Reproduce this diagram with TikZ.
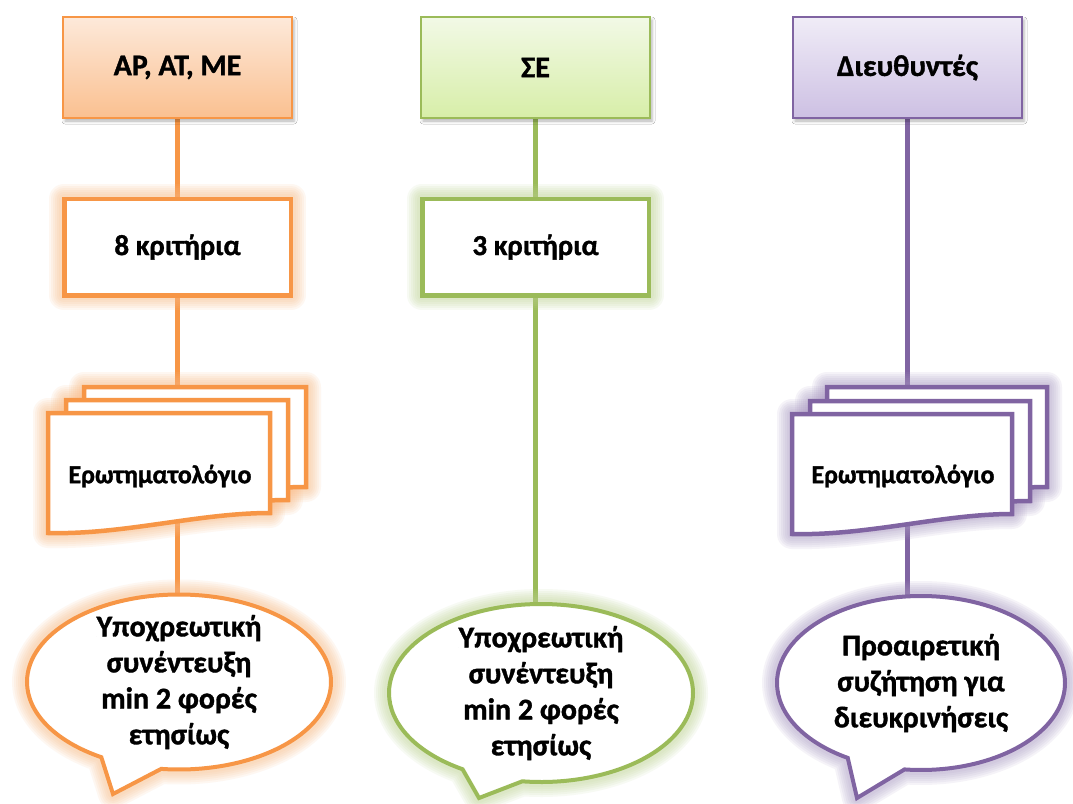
\documentclass[tikz,border=0pt]{standalone}
\usepackage{fontspec}
\setmainfont{Carlito}[BoldFeatures={FakeBold=1.2}]
\usetikzlibrary{shapes.callouts,shadows.blur}

\definecolor{ora}{HTML}{F79646}
\definecolor{oraTop}{HTML}{FDE9DA}
\definecolor{oraBot}{HTML}{FAC090}
\definecolor{grn}{HTML}{9BBB59}
\definecolor{grnTop}{HTML}{F2F9E6}
\definecolor{grnBot}{HTML}{D7EEA8}
\definecolor{prp}{HTML}{8064A2}
\definecolor{prpTop}{HTML}{F0ECF7}
\definecolor{prpBot}{HTML}{CDC0E3}

\pgfdeclarelayer{back}
\pgfsetlayers{back,main}

\tikzset{
  glowring/.style 2 args={preaction={draw=#1!65,line width=#2,opacity=0.11,line join=round}},
  glow/.style={
    glowring={#1}{30pt}, glowring={#1}{26pt}, glowring={#1}{22pt},
    glowring={#1}{18pt}, glowring={#1}{14pt}, glowring={#1}{10pt}},
  header/.style={draw=#1, line width=1.8pt, top color=#1Top, bottom color=#1Bot,
    minimum width=229pt, minimum height=101pt, inner sep=0pt,
    font=\fontsize{30}{36}\selectfont\bfseries,
    blur shadow={shadow xshift=2pt, shadow yshift=-3pt, shadow blur radius=3pt, shadow opacity=30}},
  crit/.style={glow=#1, draw=#1, line width=4.5pt, fill=white,
    minimum width=226.5pt, minimum height=96.5pt, inner sep=0pt,
    font=\fontsize{29}{35}\selectfont\bfseries},
  bubble/.style={ellipse callout, glow=#1, draw=#1, line width=4pt, fill=white,
    inner xsep=0pt, inner ysep=-30pt, callout pointer arc=24, align=center,
    font=\fontsize{30}{36}\selectfont\bfseries},
  conn/.style={draw=#1, line width=5pt},
  sheetglow/.style={draw=none, glow=#1},
  sheet/.style={draw=#1, line width=4.5pt, fill=white, line join=miter},
  doctext/.style={font=\fontsize{26}{30}\selectfont\bfseries}
}

\begin{document}
\begin{tikzpicture}[x=1pt,y=-1pt]
\useasboundingbox (0,0) rectangle (1073,803);

% column headers
\node[header=ora] (h1) at (177.5,67.5) {ΑΡ, ΑΤ, ΜΕ};
\node[header=grn] (h2) at (535.5,67.5) {ΣΕ};
\node[header=prp] (h3) at (907.5,67.5) {Διευθυντές};

% criteria boxes
\node[crit=ora] (c1) at (177.5,247) {8 κριτήρια};
\node[crit=grn] (c2) at (535.5,247) {3 κριτήρια};

% stacks of questionnaire sheets
\foreach \dx/\dy in {36/-26, 18/-13, 0/0}
  \path[sheetglow=ora, shift={(48+\dx,413+\dy)}]
    (0,0) -- (222,0) -- (222,100) .. controls (150,100) and (75,122) .. (0,120) -- cycle;
\foreach \dx/\dy in {36/-26, 18/-13, 0/0}
  \path[sheet=ora, shift={(48+\dx,413+\dy)}]
    (0,0) -- (222,0) -- (222,100) .. controls (150,100) and (75,122) .. (0,120) -- cycle;
\node[doctext] (d1) at (160,476) {Ερωτηματολόγιο};

\foreach \dx/\dy in {35/-27, 18/-13, 0/0}
  \path[sheetglow=prp, shift={(792+\dx,414+\dy)}]
    (0,0) -- (220,0) -- (220,100) .. controls (150,100) and (75,122) .. (0,120) -- cycle;
\foreach \dx/\dy in {35/-27, 18/-13, 0/0}
  \path[sheet=prp, shift={(792+\dx,414+\dy)}]
    (0,0) -- (220,0) -- (220,100) .. controls (150,100) and (75,122) .. (0,120) -- cycle;
\node[doctext] (d3) at (903,476) {Ερωτηματολόγιο};

% speech bubbles
\node[bubble=ora, minimum width=304pt, minimum height=175pt,
      callout absolute pointer={(113,794)}] (b1) at (179,682)
  {Υποχρεωτική\\συνέντευξη\\min 2 φορές\\ετησίως};
\node[bubble=grn, minimum width=304pt, minimum height=178pt,
      callout absolute pointer={(479,798)}] (b2) at (541,693)
  {Υποχρεωτική\\συνέντευξη\\min 2 φορές\\ετησίως};
\node[bubble=prp, minimum width=288pt, minimum height=174pt,
      callout absolute pointer={(857,798)}] (b3) at (921,683)
  {Προαιρετική\\συζήτηση για\\διευκρινήσεις};

% background and vertical connectors
\begin{pgfonlayer}{back}
  \fill[white] (0,0) rectangle (1073,803);
  \draw[conn=ora] (h1.south) -- (h1.south |- b1.center);
  \draw[conn=grn] (h2.south) -- (h2.south |- b2.center);
  \draw[conn=prp] (h3.south) -- (h3.south |- b3.center);
\end{pgfonlayer}
\end{tikzpicture}
\end{document}
